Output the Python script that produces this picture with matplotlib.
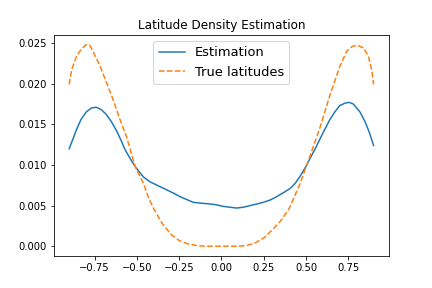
import matplotlib
matplotlib.use("Agg")
import matplotlib.pyplot as plt

# estimated density
est_x = [-0.90, -0.876, -0.856, -0.83, -0.80, -0.77, -0.74, -0.71, -0.68, -0.65,
         -0.62, -0.595, -0.57, -0.54, -0.51, -0.48, -0.46, -0.42, -0.40, -0.36,
         -0.32, -0.28, -0.245, -0.20, -0.166, -0.12, -0.067, -0.03, 0.011, 0.05,
         0.09, 0.13, 0.169, 0.21, 0.248, 0.29, 0.327, 0.36, 0.406, 0.435,
         0.465, 0.50, 0.524, 0.555, 0.583, 0.612, 0.642, 0.67, 0.70, 0.73,
         0.755, 0.78, 0.80, 0.82, 0.85, 0.875, 0.90]
est_y = [0.0120, 0.0133, 0.0144, 0.0156, 0.0165, 0.0170, 0.0171, 0.0168, 0.0162, 0.0153,
         0.0142, 0.0131, 0.0119, 0.0108, 0.0098, 0.0090, 0.0085, 0.0079, 0.0077, 0.0073,
         0.0069, 0.0065, 0.0061, 0.0057, 0.0054, 0.0053, 0.0052, 0.0051, 0.0049, 0.0048,
         0.0047, 0.0048, 0.0050, 0.0052, 0.0054, 0.0057, 0.0061, 0.0065, 0.0071, 0.0077,
         0.0086, 0.0098, 0.0108, 0.0120, 0.0132, 0.0144, 0.0156, 0.0165, 0.0173, 0.0176,
         0.0177, 0.0175, 0.0170, 0.0165, 0.0153, 0.0140, 0.0124]

# true latitude density
true_x = [-0.90, -0.886, -0.856, -0.827, -0.80, -0.777, -0.758, -0.718, -0.679, -0.64,
          -0.60, -0.56, -0.51, -0.46, -0.43, -0.40, -0.35, -0.30, -0.25, -0.20,
          -0.15, -0.10, -0.05, 0.0, 0.05, 0.10, 0.15, 0.20, 0.25, 0.30,
          0.35, 0.40, 0.465, 0.524, 0.583, 0.642, 0.70, 0.741, 0.775, 0.806,
          0.84, 0.869, 0.889, 0.90]
true_y = [0.0199, 0.0217, 0.0234, 0.0243, 0.0248, 0.0247, 0.0239, 0.0222, 0.0201, 0.0180,
          0.0156, 0.0134, 0.0098, 0.0077, 0.0059, 0.0046, 0.0028, 0.0015, 0.0007, 0.0003,
          0.0001, 0.0, 0.0, 0.0, 0.0, 0.0, 0.0001, 0.0004, 0.0010, 0.0020,
          0.0031, 0.0046, 0.0077, 0.0111, 0.0146, 0.0186, 0.0221, 0.0240, 0.0246, 0.0247,
          0.0244, 0.0234, 0.0217, 0.0199]

fig, ax = plt.subplots(figsize=(6, 4), dpi=72)
ax.plot(est_x, est_y, label="Estimation")
ax.plot(true_x, true_y, "--", label="True latitudes")
ax.set_title("Latitude Density Estimation")
ax.legend(loc="upper center", fontsize=13)

fig.savefig("out.png")
